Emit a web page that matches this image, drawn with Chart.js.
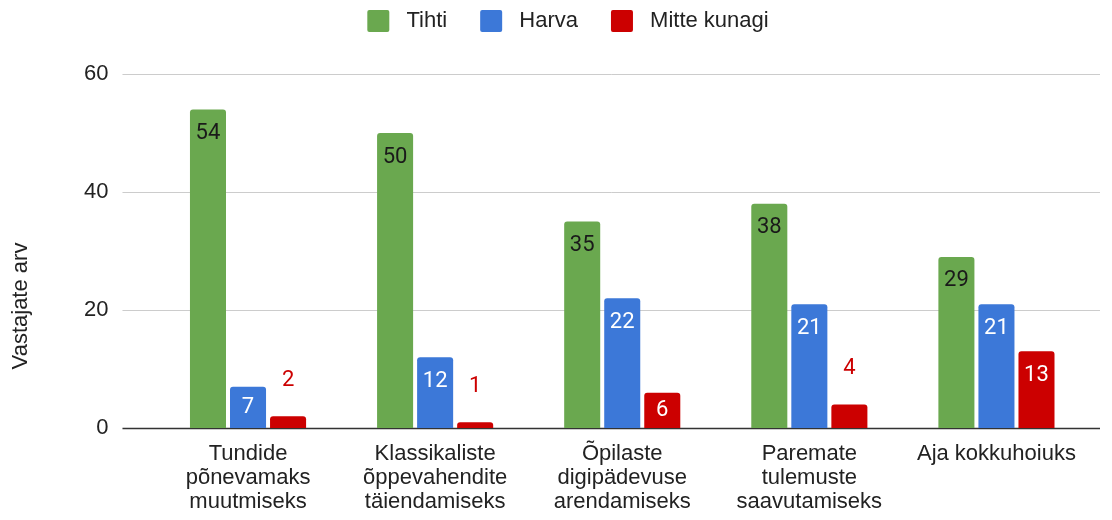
<!DOCTYPE html>
<html>
<head>
<meta charset="utf-8">
<script src="https://cdn.jsdelivr.net/npm/chart.js@4"></script>
<style>
  body { margin: 0; background: #fff; }
</style>
</head>
<body>
<canvas id="chart" width="1112" height="520"></canvas>
<script>
var categories = [
  ['Tundide', 'põnevamaks', 'muutmiseks'],
  ['Klassikaliste', 'õppevahendite', 'täiendamiseks'],
  ['Õpilaste', 'digipädevuse', 'arendamiseks'],
  ['Paremate', 'tulemuste', 'saavutamiseks'],
  ['Aja kokkuhoiuks']
];
var seriesNames = ['Tihti', 'Harva', 'Mitte kunagi'];
var tihti = [54, 50, 35, 38, 29];
var harva = [7, 12, 22, 21, 21];
var mitteKunagi = [2, 1, 6, 4, 13];
var yTicks = [0, 20, 40, 60];

var colors = ['#6aa84f', '#3c78d8', '#cc0000'];
// label colour inside bar / outside bar
var insideText = ['#1a1a1a', '#ffffff', '#ffffff'];
var outsideText = ['#1a1a1a', '#3c78d8', '#cc0000'];

Chart.defaults.font.family = '"Liberation Sans", Arial, sans-serif';
Chart.defaults.font.size = 22;
Chart.defaults.color = '#222';

// more room under the legend
var legendSpace = {
  id: 'legendSpace',
  beforeInit: function(chart) {
    var fit = chart.legend.fit;
    chart.legend.fit = function() {
      fit.bind(chart.legend)();
      this.height += 32;
    };
  }
};

// horizontal grid lines, a bit wider than the plot like in the sheet chart
var gridLines = {
  id: 'gridLines',
  beforeDatasetsDraw: function(chart) {
    var ctx = chart.ctx, area = chart.chartArea, y = chart.scales.y;
    ctx.save();
    yTicks.forEach(function(v) {
      var py = Math.round(y.getPixelForValue(v)) + 0.5;
      ctx.beginPath();
      ctx.strokeStyle = v === 0 ? '#333333' : '#cccccc';
      ctx.lineWidth = v === 0 ? 1.5 : 1;
      ctx.moveTo(area.left - 32, py);
      ctx.lineTo(area.right + 10, py);
      ctx.stroke();
    });
    ctx.restore();
  }
};

var barLabels = {
  id: 'barLabels',
  afterDatasetsDraw: function(chart) {
    var ctx = chart.ctx;
    ctx.save();
    ctx.font = '22px Roboto';
    ctx.textAlign = 'center';
    ctx.textBaseline = 'middle';
    chart.data.datasets.forEach(function(ds, i) {
      chart.getDatasetMeta(i).data.forEach(function(bar, j) {
        var h = bar.base - bar.y;
        var ty;
        if (h < 30) {
          ctx.fillStyle = outsideText[i];
          ty = bar.y - 36;
        } else {
          ctx.fillStyle = insideText[i];
          ty = Math.min(bar.y + 24, (bar.y + bar.base) / 2);
        }
        ctx.fillText(ds.data[j], bar.x, ty);
      });
    });
    ctx.restore();
  }
};

var yTitle = {
  id: 'yTitle',
  afterDraw: function(chart) {
    var ctx = chart.ctx;
    ctx.save();
    ctx.translate(21, 306);
    ctx.rotate(-Math.PI / 2);
    ctx.font = '22px "Liberation Sans", Arial, sans-serif';
    ctx.fillStyle = '#222';
    ctx.textAlign = 'center';
    ctx.textBaseline = 'middle';
    ctx.fillText('Vastajate arv', 0, 0);
    ctx.restore();
  }
};

var ctx = document.getElementById('chart').getContext('2d');
var myChart = new Chart(ctx, {
  type: 'bar',
  data: {
    labels: categories,
    datasets: [
      { label: seriesNames[0], data: tihti, backgroundColor: colors[0] },
      { label: seriesNames[1], data: harva, backgroundColor: colors[1] },
      { label: seriesNames[2], data: mitteKunagi, backgroundColor: colors[2] }
    ]
  },
  options: {
    responsive: false,
    animation: false,
    layout: { padding: { left: 46, right: 22, top: -23, bottom: 0 } },
    datasets: {
      bar: { categoryPercentage: 0.642, barPercentage: 0.9, borderRadius: 3, borderSkipped: 'bottom' }
    },
    plugins: {
      legend: {
        position: 'top',
        labels: {
          boxWidth: 22, boxHeight: 22, padding: 33, color: '#222', font: { size: 22 },
          useBorderRadius: true, borderRadius: 2,
          generateLabels: function(chart) {
            var items = Chart.defaults.plugins.legend.labels.generateLabels(chart);
            items.forEach(function(it) { it.text = ' ' + it.text; });
            return items;
          }
        }
      },
      tooltip: { enabled: false }
    },
    scales: {
      x: {
        grid: { display: false },
        border: { display: false },
        ticks: { color: '#222', font: { size: 22, lineHeight: 1.09 }, maxRotation: 0, autoSkip: false, padding: 6 }
      },
      y: {
        min: 0,
        max: 60,
        afterBuildTicks: function(axis) {
          axis.ticks = yTicks.map(function(v) { return { value: v }; });
        },
        grid: { display: false },
        border: { display: false },
        ticks: { color: '#222', font: { size: 22 }, padding: 38 }
      }
    }
  },
  plugins: [legendSpace, gridLines, barLabels, yTitle]
});
</script>
</body>
</html>
